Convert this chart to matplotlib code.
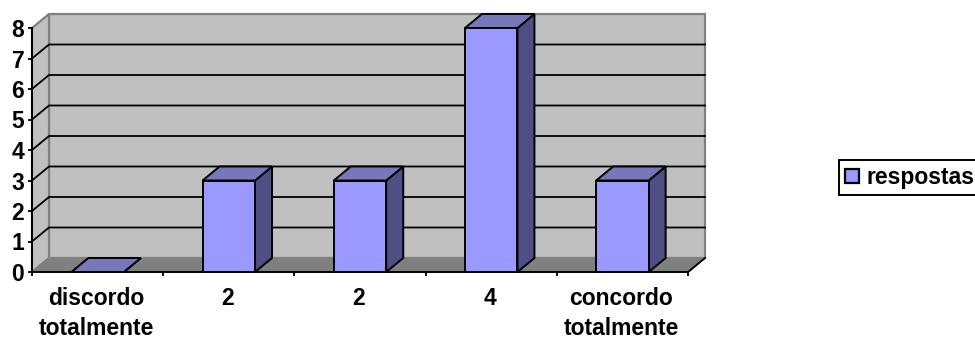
import matplotlib
matplotlib.use("Agg")
import matplotlib.pyplot as plt
from matplotlib.patches import Polygon, Patch

categories = ["discordo\ntotalmente", "2", "2", "4", "concordo\ntotalmente"]
respostas = [0, 3, 3, 8, 3]
y_ticks = [0, 1, 2, 3, 4, 5, 6, 7, 8]

W, H = 975, 340
LEFT, RIGHT, TOP, BOTTOM = 32, 688, 28, 272  # front plane, in pixels
FONT_SIZE = 16.5
plt.rcParams["font.family"] = ["Liberation Sans", "DejaVu Sans"]

fig = plt.figure(figsize=(W / 100, H / 100), dpi=100, facecolor="white")
ax = fig.add_axes([LEFT / W, 1 - BOTTOM / H, (RIGHT - LEFT) / W, (BOTTOM - TOP) / H])
ax.set_xlim(0, len(categories))
ax.set_ylim(0, 8)
ax.patch.set_visible(False)

# depth of the 3-D projection, expressed in data units
dx = 17 / ((RIGHT - LEFT) / len(categories))
dy = 14 / ((BOTTOM - TOP) / 8)
n = len(categories)
top = y_ticks[-1]


def poly(points, face, edge, lw, z):
    ax.add_patch(Polygon(points, closed=True, facecolor=face, edgecolor=edge,
                         linewidth=lw, zorder=z, clip_on=False, joinstyle="miter"))


# walls and floor
poly([(dx, dy), (n + dx, dy), (n + dx, top + dy), (dx, top + dy)], "#C0C0C0", "#808080", 1.6, 1)
poly([(0, 0), (dx, dy), (dx, top + dy), (0, top)], "#C0C0C0", "#808080", 1.6, 1)
poly([(0, 0), (n, 0), (n + dx, dy), (dx, dy)], "#808080", "#808080", 1.2, 1)

# gridlines run along the side wall and the back wall
for v in y_ticks[1:-1]:
    ax.plot([0, dx, n + dx], [v, v + dy, v + dy], color="black", lw=1.3, zorder=2,
            clip_on=False, solid_joinstyle="miter")
ax.plot([n, n + dx], [0, dy], color="black", lw=1.3, zorder=2, clip_on=False)

# bars as front, top and side faces
bar_w = 0.4
for i, v in enumerate(respostas):
    x0 = i + 0.5 - bar_w / 2
    x1 = i + 0.5 + bar_w / 2
    poly([(x1, 0), (x1 + dx, dy), (x1 + dx, v + dy), (x1, v)], "#4F4F85", "black", 1.4, 3)
    poly([(x0, v), (x1, v), (x1 + dx, v + dy), (x0 + dx, v + dy)], "#7777BB", "black", 1.4, 3)
    if v > 0:
        poly([(x0, 0), (x1, 0), (x1, v), (x0, v)], "#9999FF", "black", 1.4, 4)

for side in ("top", "right"):
    ax.spines[side].set_visible(False)
for side in ("left", "bottom"):
    ax.spines[side].set_linewidth(1.4)
    ax.spines[side].set_zorder(5)

ax.set_yticks(y_ticks)
ax.set_xticks(range(n + 1))
ax.set_xticklabels([])
ax.tick_params(axis="y", length=3, width=1.3, pad=2.5, labelsize=FONT_SIZE)
ax.tick_params(axis="x", length=3, width=1.3)
for label in ax.get_yticklabels():
    label.set_fontweight("bold")

for i, name in enumerate(categories):
    ax.annotate(name, (i + 0.5, 0), xytext=(-1, -10.5), textcoords="offset points",
                ha="center", va="top", fontsize=FONT_SIZE, fontweight="bold", linespacing=1.4,
                annotation_clip=False)

leg = fig.legend(handles=[Patch(facecolor="#9999FF", edgecolor="black", linewidth=1.6, label="respostas")],
                 loc="upper left", bbox_to_anchor=(839 / W, 1 - 160 / H), borderaxespad=0,
                 prop={"size": FONT_SIZE, "weight": "bold"}, handlelength=0.6, handleheight=0.6,
                 handletextpad=0.32, borderpad=0.27, fancybox=False, framealpha=1, edgecolor="black")
leg.get_frame().set_linewidth(1.4)

fig.savefig("out.png", dpi=100)
